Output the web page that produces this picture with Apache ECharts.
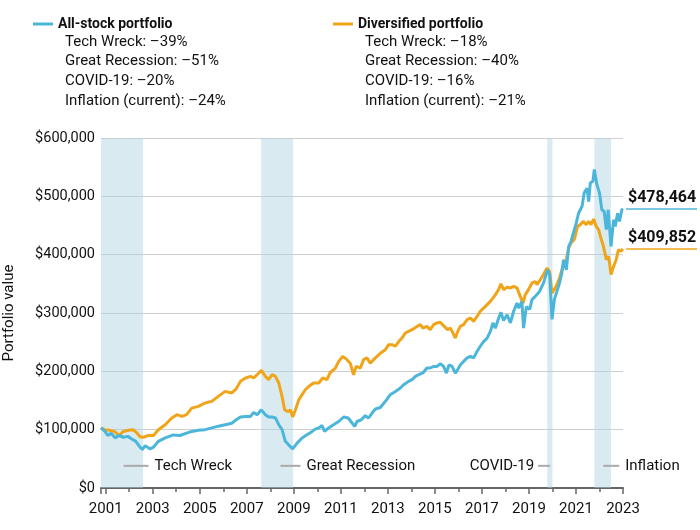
<!DOCTYPE html>
<html>
<head>
<meta charset="utf-8">
<script src="https://cdn.jsdelivr.net/npm/echarts@6/dist/echarts.min.js"></script>
<style>
  html, body { margin: 0; padding: 0; background: #fff; }
  #chart { width: 700px; height: 530px; }
</style>
</head>
<body>
<div id="chart"></div>
<script>
// dates are decimal years, values in $ thousands
const stockDates = [2000.80, 2000.97, 2001.09, 2001.23, 2001.40, 2001.57, 2001.75, 2001.94, 2002.11, 2002.28,
  2002.46, 2002.56, 2002.68, 2002.89, 2003.03, 2003.24, 2003.53, 2003.88, 2004.16, 2004.44,
  2004.66, 2004.94, 2005.23, 2005.51, 2005.79, 2006.08, 2006.36, 2006.55, 2006.73, 2006.95,
  2007.16, 2007.29, 2007.44, 2007.62, 2007.79, 2007.93, 2008.07, 2008.22, 2008.36, 2008.50,
  2008.64, 2008.78, 2008.95, 2009.14, 2009.35, 2009.56, 2009.78, 2009.91, 2010.06, 2010.20,
  2010.31, 2010.48, 2010.69, 2010.91, 2011.12, 2011.31, 2011.48, 2011.59, 2011.69, 2011.87,
  2012.04, 2012.18, 2012.33, 2012.47, 2012.68, 2012.96, 2013.10, 2013.32, 2013.53, 2013.67,
  2013.88, 2014.03, 2014.17, 2014.31, 2014.49, 2014.66, 2014.80, 2014.95, 2015.09, 2015.23,
  2015.37, 2015.49, 2015.60, 2015.73, 2015.87, 2015.97, 2016.08, 2016.22, 2016.37, 2016.51,
  2016.65, 2016.79, 2016.93, 2017.07, 2017.22, 2017.36, 2017.47, 2017.57, 2017.71, 2017.81,
  2017.92, 2018.07, 2018.21, 2018.35, 2018.49, 2018.56, 2018.70, 2018.77, 2018.89, 2019.03,
  2019.13, 2019.27, 2019.45, 2019.62, 2019.79, 2019.88, 2019.98, 2020.08, 2020.19, 2020.30,
  2020.40, 2020.47, 2020.59, 2020.69, 2020.79, 2020.87, 2021.01, 2021.11, 2021.26, 2021.35,
  2021.47, 2021.54, 2021.61, 2021.72, 2021.78, 2021.89, 2022.00, 2022.10, 2022.20, 2022.29,
  2022.37, 2022.49, 2022.60, 2022.67, 2022.77, 2022.85, 2022.95, 2023.00];
const stockValues = [103, 97, 90, 94, 86, 90, 87, 88.5, 84, 80,
  70, 66, 72.5, 67, 70, 80, 86, 91, 90, 94,
  97, 99, 100, 103, 106, 108.5, 111, 117, 121.7, 122.7,
  122.7, 129.6, 125.7, 134, 125.7, 121.7, 121.7, 120, 108.5, 100,
  80, 74, 67, 77, 85.7, 91.4, 97, 101, 103, 107,
  97, 103, 108.5, 114, 121.7, 120, 111.4, 105.6, 114, 117,
  124, 120, 128.5, 135.4, 138, 152, 160, 165.6, 171.4, 177,
  182.8, 185.7, 191.3, 194.2, 197.2, 205.7, 205.7, 208.5, 208.5, 213,
  208.5, 197, 211, 208.5, 197, 203, 211, 217, 223, 225.6,
  223, 234, 243, 251, 257, 268.5, 283, 274, 291, 301,
  287, 297, 283, 303, 317, 308.6, 320, 274, 311, 306,
  323, 328.5, 337, 351.5, 374, 366, 289, 323, 337, 351.5,
  368.6, 391.4, 374, 414, 423, 426, 454, 471, 483, 506,
  514, 491, 523, 526, 546, 520, 506, 477, 474, 443,
  477, 414, 460, 448.5, 471, 457, 477, 478.464];

const divDates = [2000.80, 2000.95, 2001.16, 2001.37, 2001.57, 2001.75, 2001.96, 2002.17, 2002.31, 2002.46,
  2002.60, 2002.81, 2003.03, 2003.24, 2003.53, 2003.81, 2004.03, 2004.24, 2004.44, 2004.66,
  2004.94, 2005.23, 2005.51, 2005.79, 2006.08, 2006.36, 2006.55, 2006.73, 2006.95, 2007.16,
  2007.29, 2007.44, 2007.62, 2007.79, 2007.93, 2008.07, 2008.22, 2008.36, 2008.50, 2008.61,
  2008.76, 2008.85, 2008.95, 2009.07, 2009.21, 2009.35, 2009.49, 2009.63, 2009.84, 2010.06,
  2010.23, 2010.41, 2010.55, 2010.77, 2010.91, 2011.08, 2011.26, 2011.40, 2011.54, 2011.65,
  2011.83, 2011.97, 2012.11, 2012.25, 2012.47, 2012.68, 2012.89, 2013.03, 2013.18, 2013.32,
  2013.46, 2013.60, 2013.74, 2013.88, 2014.03, 2014.24, 2014.38, 2014.49, 2014.66, 2014.80,
  2014.95, 2015.09, 2015.23, 2015.40, 2015.54, 2015.66, 2015.77, 2015.87, 2015.97, 2016.08,
  2016.22, 2016.37, 2016.51, 2016.65, 2016.79, 2016.93, 2017.14, 2017.36, 2017.57, 2017.71,
  2017.81, 2017.92, 2018.07, 2018.21, 2018.35, 2018.49, 2018.63, 2018.75, 2018.84, 2018.98,
  2019.13, 2019.27, 2019.34, 2019.48, 2019.62, 2019.77, 2019.88, 2019.98, 2020.05, 2020.16,
  2020.30, 2020.47, 2020.59, 2020.69, 2020.79, 2020.93, 2021.07, 2021.18, 2021.32, 2021.44,
  2021.54, 2021.64, 2021.75, 2021.86, 2021.96, 2022.06, 2022.17, 2022.29, 2022.39, 2022.49,
  2022.60, 2022.71, 2022.81, 2022.91, 2023.00];
const divValues = [103, 100, 99, 97, 90, 97, 99, 100, 95, 88,
  87, 90, 90, 100, 108.5, 120, 125.7, 122.7, 125.7, 137,
  140, 145.7, 148.5, 157, 165.6, 163, 170, 182.8, 188.6, 191.3,
  188.6, 194.2, 201.6, 191.3, 185.7, 194.2, 191.3, 180, 157, 134,
  131, 134, 122, 134, 151, 160, 168.5, 174, 180, 180,
  188.6, 185.7, 198, 205.7, 217, 225.6, 220, 214, 194, 208.5,
  205.7, 220, 223, 214, 223, 231, 237, 245.7, 245.7, 243,
  251, 257, 265.7, 268.5, 271.4, 277, 280, 274, 277, 271.4,
  280, 283, 284, 277, 271.4, 274, 265.7, 257, 268.5, 277,
  280, 288.6, 291.4, 285.6, 294, 303, 311, 320, 331, 340,
  350, 340, 344, 343, 345.6, 343, 328.5, 317, 331, 340,
  351.5, 354, 348.6, 357, 366, 377, 371, 334, 337, 345.6,
  360, 383, 391, 411, 420, 426, 448.5, 451.4, 457, 451.4,
  457, 451.4, 461, 448.5, 443, 428.6, 414, 391.4, 397, 365.7,
  380, 391.4, 408.5, 405.6, 409.852];

const bandNames = ['Tech Wreck', 'Great Recession', 'COVID-19', 'Inflation'];
const bandStarts = [2000.8, 2007.61, 2019.78, 2021.78];
const bandEnds = [2002.59, 2008.97, 2020.0, 2022.49];

const stockDrawdowns = ['Tech Wreck: –39%', 'Great Recession: –51%', 'COVID-19: –20%', 'Inflation (current): –24%'];
const divDrawdowns = ['Tech Wreck: –18%', 'Great Recession: –40%', 'COVID-19: –16%', 'Inflation (current): –21%'];

const labelYears = [2001, 2003, 2005, 2007, 2009, 2011, 2013, 2015, 2017, 2019, 2021, 2023];
const minorYears = [2002, 2004, 2006, 2008, 2010, 2012, 2014, 2016, 2018, 2020, 2022];

const BLUE = '#4cb6da';
const ORANGE = '#f0a41a';
const FONT = 'Roboto, "Liberation Sans", sans-serif';

const chart = echarts.init(document.getElementById('chart'));

const toPairs = (dates, vals) => dates.map((d, i) => [d, Math.round(vals[i] * 1000)]);

const option = {
  animation: false,
  textStyle: { fontFamily: FONT },
  grid: { left: 101, right: 77, top: 138, bottom: 42, containLabel: false, outerBoundsMode: 'none' },
  legend: [
    {
      left: 28, top: 12, data: ['All-stock portfolio'], icon: 'rect', itemWidth: 20, itemHeight: 3,
      selectedMode: false, textStyle: { fontFamily: FONT, fontWeight: 'bold', fontSize: 14, color: '#111' }
    },
    {
      left: 328, top: 12, data: ['Diversified portfolio'], icon: 'rect', itemWidth: 20, itemHeight: 3,
      selectedMode: false, textStyle: { fontFamily: FONT, fontWeight: 'bold', fontSize: 14, color: '#111' }
    }
  ],
  xAxis: [
    {
      type: 'value', min: 2000.8, max: 2023,
      axisLine: { lineStyle: { color: '#666', width: 2 } },
      axisTick: { customValues: [2000.8].concat(labelYears), length: 6, lineStyle: { color: '#666', width: 1.5 } },
      axisLabel: { customValues: labelYears, formatter: v => String(v), margin: 14, color: '#111', fontSize: 15, fontFamily: FONT },
      splitLine: { show: false }
    },
    {
      type: 'value', min: 2000.8, max: 2023, position: 'bottom',
      axisLine: { show: false },
      axisTick: { customValues: minorYears, length: 4, lineStyle: { color: '#666', width: 1.5 } },
      axisLabel: { show: false },
      splitLine: { show: false }
    }
  ],
  yAxis: {
    type: 'value', min: 0, max: 600000, interval: 100000,
    name: 'Portfolio value', nameLocation: 'middle', nameGap: 84,
    nameTextStyle: { fontSize: 15, color: '#111', fontFamily: FONT },
    axisLine: { show: false }, axisTick: { show: false },
    axisLabel: { formatter: v => '$' + v.toLocaleString('en-US'), margin: 6, color: '#111', fontSize: 14.5, fontFamily: FONT },
    splitLine: { lineStyle: { color: '#cfcfcf', width: 1 } }
  },
  series: [
    {
      name: 'bands', type: 'line', data: [], z: 1, silent: true,
      markArea: {
        silent: true,
        itemStyle: { color: 'rgba(170,210,224,0.45)' },
        data: bandNames.map((n, i) => [{ xAxis: bandStarts[i] }, { xAxis: bandEnds[i] }])
      }
    },
    {
      name: 'Diversified portfolio', type: 'line', z: 3, color: ORANGE,
      showSymbol: false, lineStyle: { width: 3, color: ORANGE },
      data: toPairs(divDates, divValues)
    },
    {
      name: 'All-stock portfolio', type: 'line', z: 4, color: BLUE,
      showSymbol: false, lineStyle: { width: 3, color: BLUE },
      data: toPairs(stockDates, stockValues)
    }
  ]
};

chart.setOption(option);

// annotations placed through the chart's own scales
const px = (x, y) => chart.convertToPixel({ gridIndex: 0 }, [x, y]);
const graphics = [];

// header drawdown lists
[[stockDrawdowns, 65], [divDrawdowns, 365]].forEach(([lines, left]) => {
  graphics.push({
    type: 'text', left: left, top: 32,
    style: { text: lines.join('\n'), fontSize: 15, lineHeight: 19.7, fill: '#111', fontFamily: FONT }
  });
});

// band labels near the bottom with short leader lines
const bandLabelAt = [2001.76, 2008.43, 2019.9, 2022.16];
const bandLabelLen = [25, 20, 12, 16];
const bandLabelSide = ['right', 'right', 'left', 'right'];
const labelY = px(2001, 38000)[1];
bandNames.forEach((n, i) => {
  const x0 = px(bandLabelAt[i], 0)[0];
  const len = bandLabelLen[i];
  const right = bandLabelSide[i] === 'right';
  const xs = right ? x0 : x0 - len;
  graphics.push({ type: 'line', shape: { x1: xs, y1: labelY, x2: xs + len, y2: labelY }, style: { stroke: '#aaa', lineWidth: 2 }, z: 10 });
  graphics.push({
    type: 'text', x: right ? xs + len + 6 : xs - 4, y: labelY, z: 10,
    style: { text: n, fontSize: 15, fill: '#111', fontFamily: FONT, textAlign: right ? 'left' : 'right', textVerticalAlign: 'middle' }
  });
});

// end-value labels
[[stockDates, stockValues, BLUE], [divDates, divValues, ORANGE]].forEach(([d, v, c]) => {
  const last = v[v.length - 1] * 1000;
  const p = px(d[d.length - 1], last);
  const gx = px(2023, 0)[0];
  graphics.push({ type: 'line', shape: { x1: gx + 3, y1: p[1], x2: 697, y2: p[1] }, style: { stroke: c, lineWidth: 1.5 }, z: 10 });
  graphics.push({
    type: 'text', x: gx + 5, y: p[1] - 3, z: 10,
    style: { text: '$' + Math.round(last).toLocaleString('en-US'), fontSize: 16, fontWeight: 'bold', fill: '#111', fontFamily: FONT, textVerticalAlign: 'bottom' }
  });
});

chart.setOption({ graphic: graphics });
window.addEventListener('resize', function () { chart.resize(); });
</script>
</body>
</html>
